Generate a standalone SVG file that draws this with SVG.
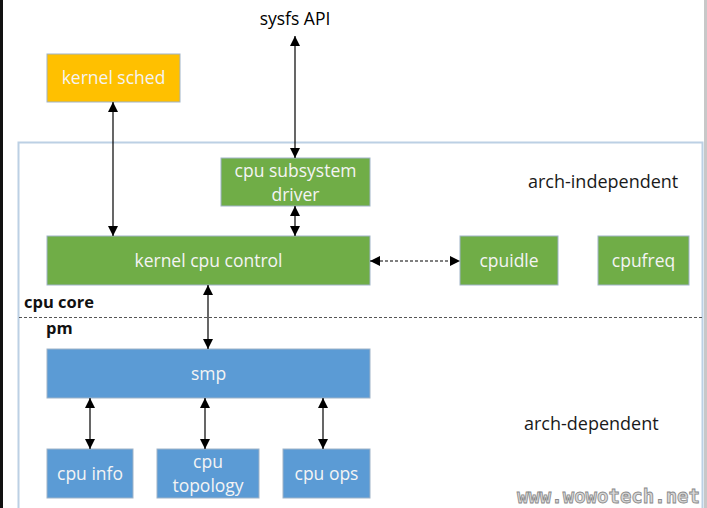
<svg xmlns="http://www.w3.org/2000/svg" width="707" height="508" viewBox="0 0 707 508">
<defs>
<marker id="ah" viewBox="0 0 10 10" refX="10" refY="5" markerWidth="10" markerHeight="10" markerUnits="userSpaceOnUse" orient="auto-start-reverse">
<path d="M0,0 L10,5 L0,10 Z" fill="#000"/>
</marker>
</defs>
<style>
.box{stroke:#9fb3c8;stroke-width:1}
.g{fill:#70ad47}
.b{fill:#5b9bd5}
.y{fill:#ffc000}
.t{font-family:"Open Sans","Liberation Sans",sans-serif;font-size:17.5px;fill:#f4f4f4;text-anchor:middle}
.l{font-family:"Open Sans","Liberation Sans",sans-serif;font-size:18px;fill:#1a1a1a}
.bl{font-family:"Open Sans","Liberation Sans",sans-serif;font-size:16.5px;font-weight:bold;fill:#111}
.c{stroke:#000;stroke-width:1.2;fill:none;marker-start:url(#ah);marker-end:url(#ah)}
</style>
<rect width="707" height="508" fill="#fff"/>
<rect x="0" y="0" width="3" height="508" fill="#111"/>
<rect x="704" y="0" width="3" height="508" fill="#c8c8c8"/>
<g id="container">
<path d="M18.5,510 L18.5,142.5 L702.5,142.5 L702.5,510" fill="none" stroke="#bcd0e4" stroke-width="2"/>
<line x1="19" y1="317.5" x2="702" y2="317.5" stroke="#555" stroke-width="1" stroke-dasharray="3,2"/>
<text class="bl" x="24" y="308">cpu core</text>
<text class="bl" x="46" y="334">pm</text>
<text class="l" x="528" y="188">arch-independent</text>
<text class="l" x="524" y="430">arch-dependent</text>
</g>
<g id="sysfs"><text class="l" x="295" y="25" text-anchor="middle" style="font-size:17.5px;font-weight:500;fill:#000">sysfs API</text></g>
<g id="kernel-sched"><rect class="box y" x="47" y="54" width="133" height="48"/><text class="t" x="113.5" y="84">kernel sched</text></g>
<g id="cpu-subsystem-driver"><rect class="box g" x="221" y="158" width="149" height="48"/><text class="t" x="295.5" y="177">cpu subsystem</text><text class="t" x="295.5" y="201">driver</text></g>
<g id="kernel-cpu-control"><rect class="box g" x="47" y="236" width="323" height="49"/><text class="t" x="208.5" y="267">kernel cpu control</text></g>
<g id="cpuidle"><rect class="box g" x="460" y="236" width="98" height="49"/><text class="t" x="509" y="267">cpuidle</text></g>
<g id="cpufreq"><rect class="box g" x="598" y="236" width="91" height="49"/><text class="t" x="643.5" y="267">cpufreq</text></g>
<g id="smp"><rect class="box b" x="47" y="349" width="323" height="49"/><text class="t" x="208.5" y="380">smp</text></g>
<g id="cpu-info"><rect class="box b" x="47" y="449" width="86" height="49"/><text class="t" x="90" y="480">cpu info</text></g>
<g id="cpu-topology"><rect class="box b" x="157" y="449" width="102" height="49"/><text class="t" x="208" y="468">cpu</text><text class="t" x="208" y="492">topology</text></g>
<g id="cpu-ops"><rect class="box b" x="283" y="449" width="87" height="49"/><text class="t" x="326.5" y="480">cpu ops</text></g>
<g id="connectors">
<line class="c" x1="295" y1="36" x2="295" y2="158"/>
<line class="c" x1="113" y1="102" x2="113" y2="236"/>
<line class="c" x1="295" y1="206" x2="295" y2="236"/>
<line class="c" x1="370" y1="261" x2="460" y2="261" stroke-dasharray="3,2"/>
<line class="c" x1="208" y1="285" x2="208" y2="349"/>
<line class="c" x1="90" y1="398" x2="90" y2="449"/>
<line class="c" x1="205" y1="398" x2="205" y2="449"/>
<line class="c" x1="323" y1="398" x2="323" y2="449"/>
</g>
<g id="watermark"><text x="700" y="503" text-anchor="end" font-family="'DejaVu Sans Mono',monospace" font-size="19" font-weight="bold" fill="#d8d8d8" stroke="#888" stroke-width="0.8">www.wowotech.net</text></g>
</svg>
